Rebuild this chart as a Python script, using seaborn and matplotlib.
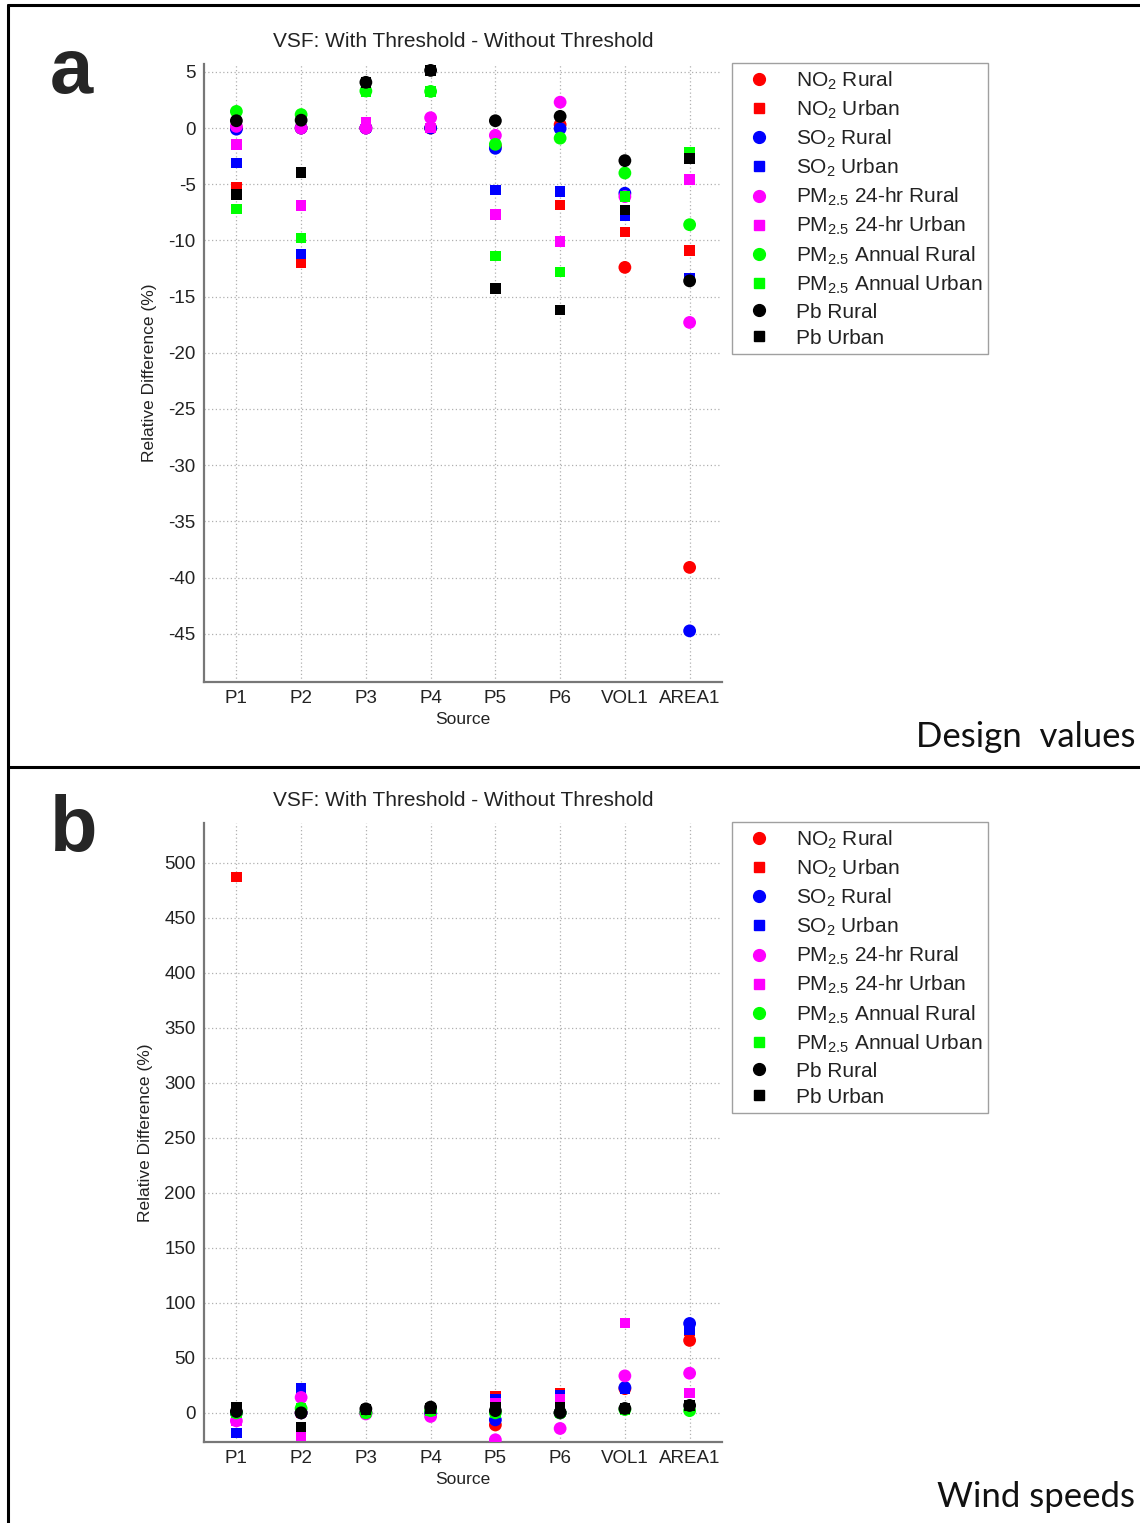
import matplotlib
matplotlib.use("Agg")
import matplotlib.pyplot as plt
from matplotlib.lines import Line2D
import seaborn as sns
import pandas as pd

sources = ["P1", "P2", "P3", "P4", "P5", "P6", "VOL1", "AREA1"]

series = ["NO2 Rural", "NO2 Urban", "SO2 Rural", "SO2 Urban",
          "PM24 Rural", "PM24 Urban", "PMAnn Rural", "PMAnn Urban",
          "Pb Rural", "Pb Urban"]
labels = [r"NO$_2$ Rural", r"NO$_2$ Urban", r"SO$_2$ Rural", r"SO$_2$ Urban",
          r"PM$_{2.5}$ 24-hr Rural", r"PM$_{2.5}$ 24-hr Urban",
          r"PM$_{2.5}$ Annual Rural", r"PM$_{2.5}$ Annual Urban",
          "Pb Rural", "Pb Urban"]
colors = ["#ff0000", "#ff0000", "#0000ff", "#0000ff", "#ff00ff", "#ff00ff",
          "#00ff00", "#00ff00", "#000000", "#000000"]
shapes = ["o", "s"] * 5

# panel a: design values (%)
design = {
    "NO2 Rural":   [0, 0, 0, 0, -1.6, 0.3, -12.4, -39.1],
    "NO2 Urban":   [-5.25, -12.0, 0, 0, -5.5, -6.85, -9.25, -10.9],
    "SO2 Rural":   [-0.1, 0, 0, 0, -1.8, -0.05, -5.8, -44.75],
    "SO2 Urban":   [-3.1, -11.2, 0, 0, -5.5, -5.65, -7.8, -13.35],
    "PM24 Rural":  [0.15, 0, 0, 0.92, -0.65, 2.3, -6.1, -17.3],
    "PM24 Urban":  [-1.45, -6.9, 0.5, 0, -7.7, -10.1, -7.3, -4.6],
    "PMAnn Rural": [1.48, 1.2, 3.3, 3.26, -1.45, -0.9, -4.0, -8.6],
    "PMAnn Urban": [-7.2, -9.8, 3.26, 3.26, -11.4, -12.8, -6.1, -2.15],
    "Pb Rural":    [0.65, 0.7, 4.07, 5.13, 0.65, 1.04, -2.9, -13.6],
    "Pb Urban":    [-5.9, -3.95, 4.07, 5.13, -14.3, -16.2, -7.3, -2.7],
}

# panel b: wind speeds (%)
wind = {
    "NO2 Rural":   [0, 0, 0, 0, -11, 0, 22, 65.8],
    "NO2 Urban":   [487, 0, 0, 0, 14.8, 17.9, 21.8, 75],
    "SO2 Rural":   [0, 0, 0, 0, -6.4, 0, 23, 81.2],
    "SO2 Urban":   [-18.5, 22, 0, 0, 12.4, 15.5, 21.8, 75.5],
    "PM24 Rural":  [-7.3, 14, -1, -3.3, -24.5, -14.2, 33.6, 36],
    "PM24 Urban":  [-7.3, -20.6, 0, 0, 8.8, 12.4, 81.5, 17.9],
    "PMAnn Rural": [0, 4, 0, 2, 0, 0, 3, 2],
    "PMAnn Urban": [0, 4, 0, 2, 0, 0, 3, 4],
    "Pb Rural":    [1.2, 0, 3.6, 5.2, 2, 0.3, 4, 6.7],
    "Pb Urban":    [5.2, -13, 3, 4, 5, 5.2, 4, 6.7],
}

sns.set_style("white")
plt.rcParams["font.family"] = ["Liberation Sans", "DejaVu Sans"]
plt.rcParams["mathtext.fontset"] = "custom"
plt.rcParams["mathtext.rm"] = "Liberation Sans"
plt.rcParams["mathtext.it"] = "Liberation Sans:italic"
plt.rcParams["axes.unicode_minus"] = False

W, H = 1140, 1523
fig = plt.figure(figsize=(W / 100, H / 100), dpi=100)


def long_df(d):
    rows = []
    for s in series:
        for i, v in enumerate(d[s]):
            rows.append({"series": s, "pos": i + 1, "value": v})
    return pd.DataFrame(rows)


def panel(d, top_px, bottom_px, ylim, yticks, letter, note, note_y):
    ax = fig.add_axes([204 / W, 1 - bottom_px / H, (722 - 204) / W,
                       (bottom_px - top_px) / H])
    df = long_df(d)
    sns.scatterplot(data=df, x="pos", y="value", hue="series", style="series",
                    size="series",
                    palette=dict(zip(series, colors)),
                    markers=dict(zip(series, shapes)),
                    sizes={s: (85 if m == "o" else 58) for s, m in zip(series, shapes)},
                    edgecolor="none", linewidth=0, legend=False, ax=ax, zorder=3)
    ax.set_xlim(0.5, 8.5)
    ax.set_ylim(*ylim)
    ax.set_xticks(range(1, 9))
    ax.set_xticklabels(sources)
    ax.set_yticks(yticks)
    ax.grid(True, linestyle=(0, (1, 2)), color="#b0b0b0", linewidth=0.9)
    ax.set_axisbelow(True)
    for sp in ["top", "right"]:
        ax.spines[sp].set_visible(False)
    for sp in ["left", "bottom"]:
        ax.spines[sp].set_color("#777777")
        ax.spines[sp].set_linewidth(1.6)
    ax.tick_params(direction="in", length=4, width=1, color="#777777",
                   labelsize=13.5, labelcolor="#222222", pad=6)
    ax.set_xlabel("Source", fontsize=12.5, color="#222222", labelpad=3)
    ax.set_ylabel("Relative Difference (%)", fontsize=12.5, color="#222222",
                  labelpad=8)
    ax.set_title("VSF: With Threshold - Without Threshold", fontsize=15,
                 color="#222222", pad=12)

    handles = [Line2D([], [], linestyle="none", marker=m, color=c,
                      markersize=(8.5 if m == "o" else 7))
               for m, c in zip(shapes, colors)]
    leg = fig.legend(handles, labels, loc="upper left",
                     bbox_to_anchor=(732 / W, 1 - (top_px - 1) / H),
                     fontsize=15, frameon=True, fancybox=False,
                     edgecolor="#888888", borderpad=0.3, labelspacing=0.33,
                     handletextpad=0.75, handlelength=2.0,
                     borderaxespad=0)
    leg.get_frame().set_linewidth(1.0)
    for t in leg.get_texts():
        t.set_color("#222222")

    fig.text(50 / W, 1 - (top_px + 8) / H, letter, fontsize=56,
             fontweight="bold", va="center", ha="left")
    fig.text(1135 / W, 1 - note_y / H, note, fontsize=25, family="Lato",
             ha="right", va="center", color="#111111")
    return ax


panel(design, 64, 682, (-49.3, 5.7), list(range(-45, 6, 5)), "a",
      "Design  values", 737)
panel(wind, 823, 1442, (-26.5, 536), list(range(0, 501, 50)), "b",
      "Wind speeds", 1497)

# frame lines around the two panels
kw = dict(transform=fig.transFigure, color="black", linewidth=2.2)
fig.add_artist(Line2D([8 / W, 8 / W], [0, 1 - 5 / H], **kw))
fig.add_artist(Line2D([8 / W, 1], [1 - 5 / H, 1 - 5 / H], **kw))
fig.add_artist(Line2D([8 / W, 1], [1 - 767 / H, 1 - 767 / H], **kw))

fig.savefig("out.png", dpi=100)
